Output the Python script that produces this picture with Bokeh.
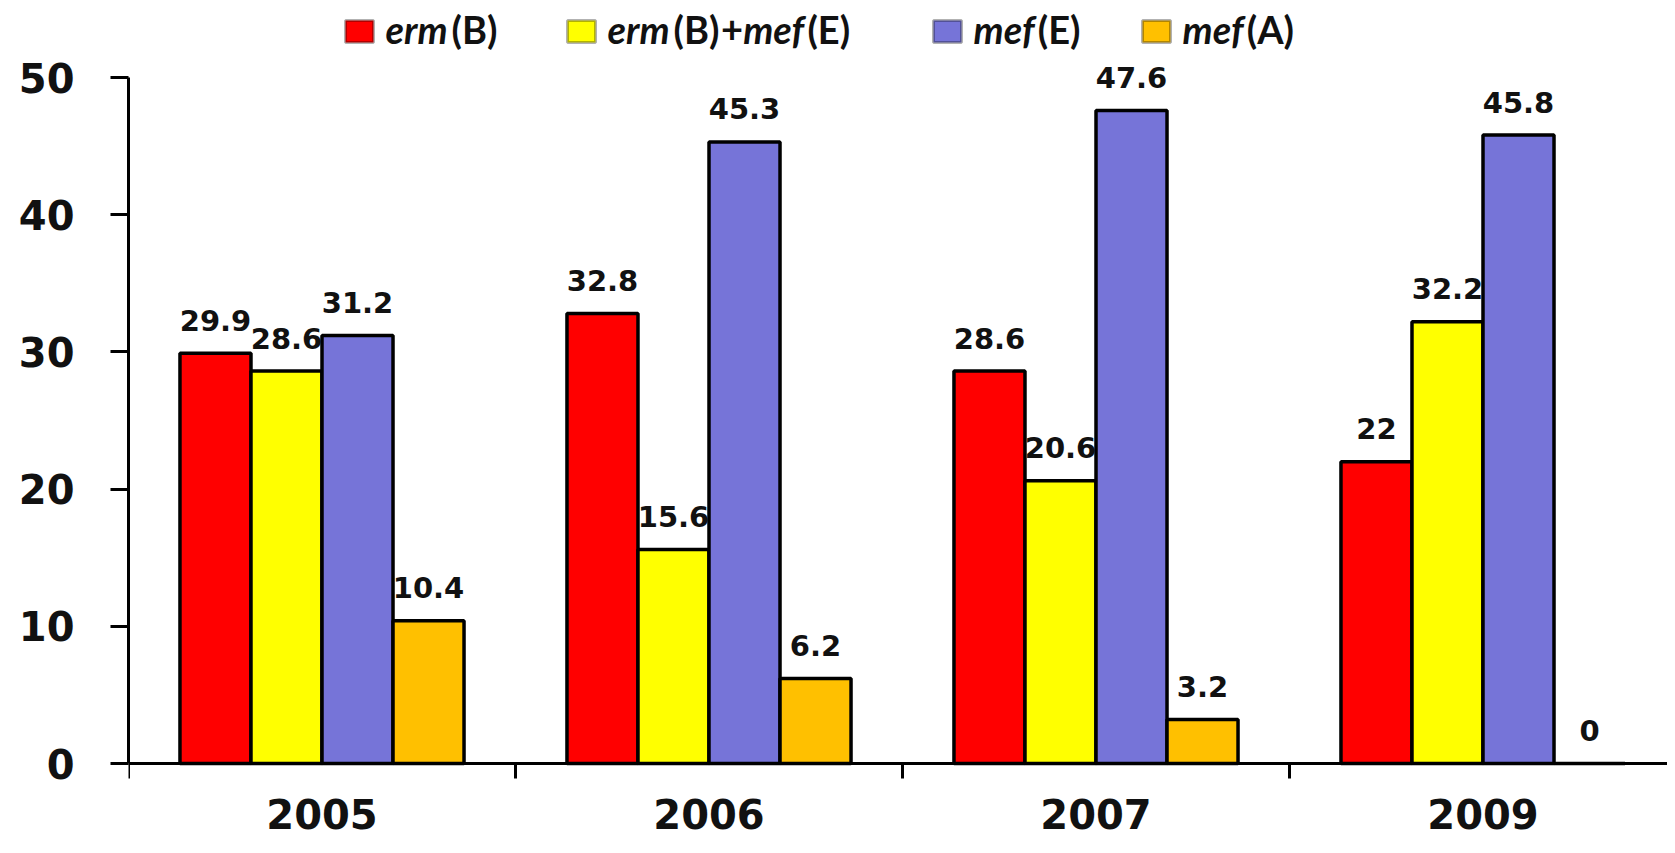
from bokeh.plotting import figure
from bokeh.models import Range1d, FixedTicker, ColumnDataSource, Label, BoxAnnotation
from bokeh.core.properties import value
from bokeh.embed import file_html
from bokeh.resources import INLINE

# ---- data ----
years = ["2005", "2006", "2007", "2009"]
erm_b = [29.9, 32.8, 28.6, 22]
erm_b_mef_e = [28.6, 15.6, 20.6, 32.2]
mef_e = [31.2, 45.3, 47.6, 45.8]
mef_a = [10.4, 6.2, 3.2, 0]
y_ticks = [0, 10, 20, 30, 40, 50]

series = [
    ("erm(B)", erm_b, "#FF0000"),
    ("erm(B)+mef(E)", erm_b_mef_e, "#FFFF00"),
    ("mef(E)", mef_e, "#7674D8"),
    ("mef(A)", mef_a, "#FFC000"),
]

# ---- layout constants (pixels) ----
W, H = 1667, 837
LEFT = 128            # y-axis position
Y_TOP_PX = 77         # where 50 sits
Y_ZERO_PX = 763       # where 0 sits
CAT_PX = 387          # width of one category
BAR_W = 0.1835
TXT = "#111111"

ppu = (Y_ZERO_PX - Y_TOP_PX) / 50.0
y_end = 50 + Y_TOP_PX / ppu
y_start = -(H - Y_ZERO_PX) / ppu
x_end = (W - LEFT) / CAT_PX

p = figure(width=W, height=H, x_range=Range1d(0, x_end), y_range=Range1d(y_start, y_end),
           output_backend="svg", toolbar_location=None,
           min_border_left=LEFT, min_border_right=0, min_border_top=0, min_border_bottom=0)
p.outline_line_color = None
p.xgrid.visible = False
p.ygrid.visible = False
p.background_fill_color = "white"
p.border_fill_color = "white"

n = len(series)
for j, (name, vals, color) in enumerate(series):
    xs = [i + 0.5 + (j - (n - 1) / 2) * BAR_W for i in range(len(years))]
    src = ColumnDataSource(dict(x=xs, top=vals, lab=[f"{v:g}" for v in vals]))
    p.vbar(x="x", top="top", bottom=0, width=BAR_W, source=src,
           fill_color=color, line_color="black", line_width=3.5)
    p.text(x="x", y="top", text="lab", source=src, text_align="center",
           text_baseline="middle", y_offset=-33,
           text_font=value("DejaVu Sans"), text_font_style="bold",
           text_font_size="29px", text_color=TXT)

# y axis
ya = p.yaxis[0]
ya.ticker = FixedTicker(ticks=y_ticks)
ya.bounds = (0, 50)
ya.axis_line_width = 3
ya.axis_line_color = "black"
ya.major_tick_out = 18
ya.major_tick_in = 0
ya.major_tick_line_width = 3
ya.minor_tick_line_color = None
ya.major_label_text_font = "DejaVu Sans"
ya.major_label_text_font_style = "bold"
ya.major_label_text_font_size = "40px"
ya.major_label_text_color = TXT
ya.major_label_standoff = 36

# x axis at y = 0, ticks between categories
xa = p.xaxis[0]
xa.fixed_location = 0
xa.ticker = FixedTicker(ticks=[], minor_ticks=list(range(len(years) + 1)))
xa.axis_line_width = 3
xa.axis_line_color = "black"
xa.minor_tick_out = 15
xa.minor_tick_in = 0
xa.minor_tick_line_width = 3
xa.minor_tick_line_color = "black"
xa.major_tick_line_color = None
xa.major_label_text_font_size = "0px"

# category labels under the axis
ysrc = ColumnDataSource(dict(x=[i + 0.5 for i in range(len(years))], y=[0] * len(years), t=years))
p.text(x="x", y="y", text="t", source=ysrc, text_align="center", text_baseline="middle",
       y_offset=50, text_font=value("DejaVu Sans"), text_font_style="bold",
       text_font_size="40px", text_color=TXT)

# ---- legend (manual, mixed italic) ----
FS = 38
em = FS / 1000.0
wid = {"erm": 1740, "mef": 1690, "(B)": 1250, "(E)": 1170, "(A)": 1290, "+": 580}
legend_parts = [
    [("erm", True), ("(B)", False)],
    [("erm", True), ("(B)", False), ("+", False), ("mef", True), ("(E)", False)],
    [("mef", True), ("(E)", False)],
    [("mef", True), ("(A)", False)],
]
swatch_x = [345, 567, 933, 1142]
SW_TOP, SW_BOT, TXT_MID = 20, 42, 28


def sx(px):
    return px - LEFT


def sy(py):
    return H - py


for (name, vals, color), parts, x0 in zip(series, legend_parts, swatch_x):
    p.add_layout(BoxAnnotation(left=sx(x0), right=sx(x0 + 28), bottom=sy(SW_BOT), top=sy(SW_TOP),
                               left_units="screen", right_units="screen",
                               top_units="screen", bottom_units="screen",
                               fill_color=color, fill_alpha=1, line_color="black", line_width=3))
    cx = x0 + 40
    for txt, ital in parts:
        p.add_layout(Label(x=sx(cx), y=sy(TXT_MID), x_units="screen", y_units="screen", text=txt,
                           text_font="Lato", text_font_style="bold italic" if ital else "bold",
                           text_font_size=f"{FS}px", text_color=TXT,
                           text_baseline="middle", text_align="left"))
        cx += wid[txt] * em

open("out.html", "w").write(file_html(p, INLINE))
